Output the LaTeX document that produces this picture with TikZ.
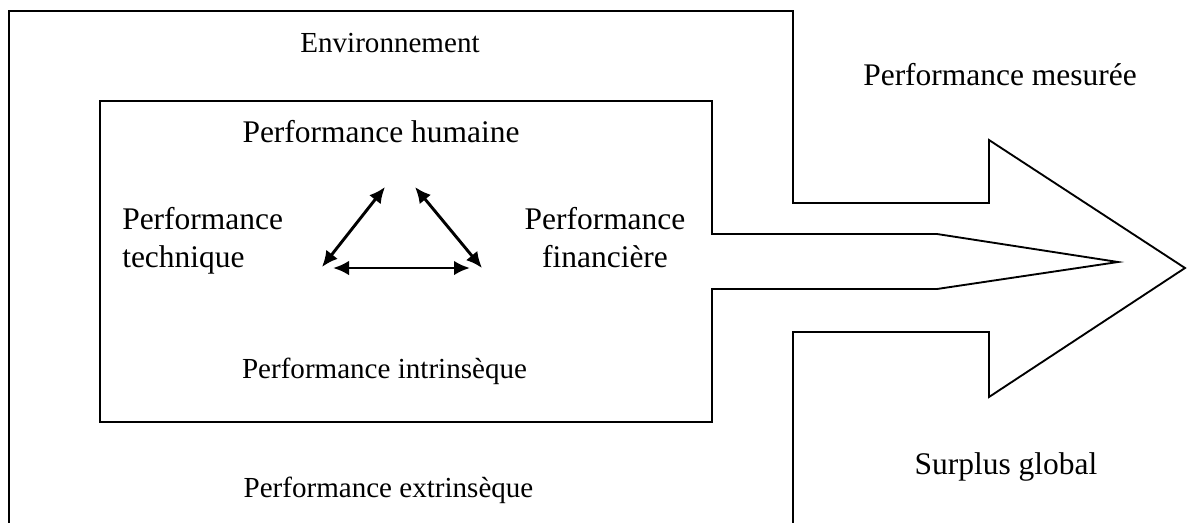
\documentclass[tikz,border=0pt]{standalone}
\usepackage{fontspec}
\setmainfont{Liberation Serif}
\usetikzlibrary{arrows.meta}
\tikzset{
  outline/.style={line width=1.4pt, line join=miter},
  big/.style={font=\fontsize{23.6pt}{28.5pt}\selectfont, inner sep=0pt},
  small/.style={font=\fontsize{21.8pt}{26pt}\selectfont, inner sep=0pt},
  biarrow/.style={line width=2.2pt, {Latex[length=12pt,width=11pt]}-{Latex[length=12pt,width=11pt]}}
}
\begin{document}
\begin{tikzpicture}[x=0.75pt,y=-0.75pt]
\useasboundingbox (0,0) rectangle (1189,522);
% outer shape (environment + big arrow)
\draw[outline] (9,530) -- (9,11) -- (793,11) -- (793,203) -- (989,203) -- (989,140)
  -- (1185,268) -- (989,397) -- (989,332) -- (793,332) -- (793,530);
% inner shape (intrinsic performance + inner arrow)
\draw[outline] (712,234) -- (712,101) -- (100,101) -- (100,422) -- (712,422) -- (712,289)
  -- (937,289) -- (1118,262) -- (937,234) -- cycle;
% texts
\node[small, anchor=base] (env) at (390,52) {Environnement};
\node[big, anchor=base] (mes) at (1000,85) {Performance mesurée};
\node[big, anchor=base] (hum) at (381,142) {Performance humaine};
\node[big, anchor=base west, align=left] (tech) at (122,267) {Performance\\technique};
\node[big, anchor=base, align=center] (fin) at (605,267) {Performance\\financière};
\node[small, anchor=base] (intr) at (384.5,378) {Performance intrinsèque};
\node[small, anchor=base] (extr) at (388.5,497) {Performance extrinsèque};
\node[big, anchor=base] (surp) at (1006,474) {Surplus global};
% triangle of relations
\coordinate (a1) at (322,267);
\coordinate (a2) at (385,187);
\coordinate (b1) at (415,187);
\coordinate (b2) at (482,268);
\coordinate (c1) at (333,268);
\coordinate (c2) at (470,268);
\draw[biarrow] (a1) -- (a2);
\draw[biarrow] (b1) -- (b2);
\draw[biarrow] (c1) -- (c2);
\end{tikzpicture}
\end{document}
